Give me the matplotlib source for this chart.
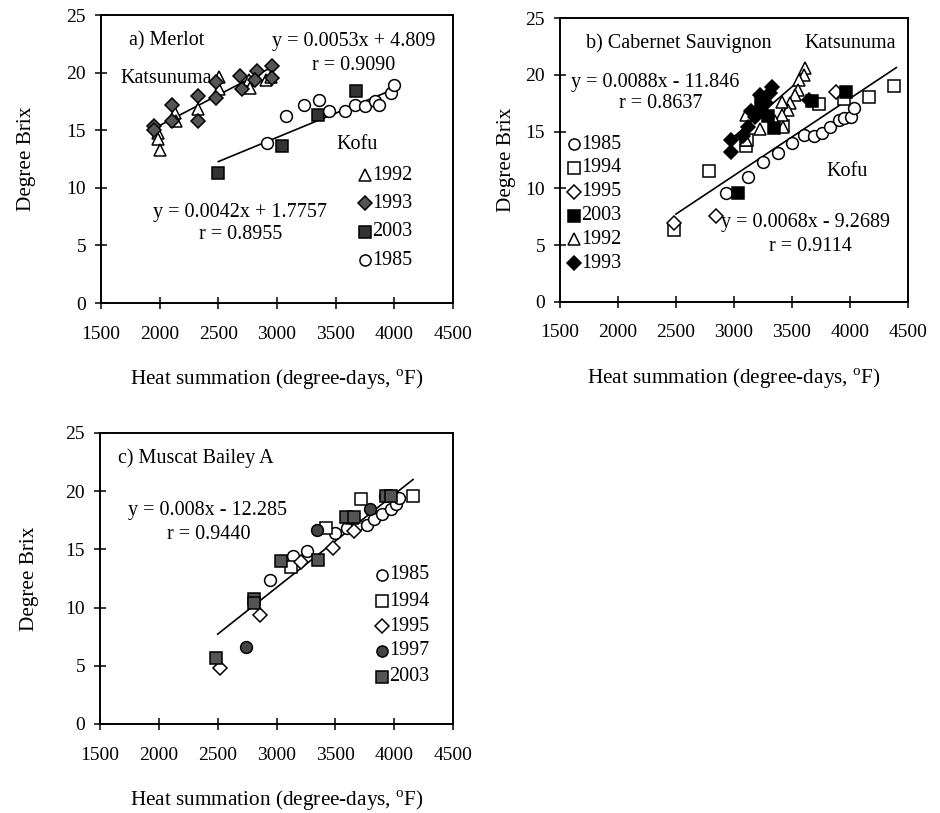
import numpy as np
import matplotlib
matplotlib.use('Agg')
import matplotlib.pyplot as plt

plt.rcParams['font.family'] = ['Liberation Serif', 'DejaVu Serif']
plt.rcParams['mathtext.fontset'] = 'custom'
plt.rcParams['mathtext.rm'] = 'Liberation Serif'

# ---- a) Merlot ----
a_1992_x = [1986, 1986, 2000, 2129, 2143, 2330, 2510, 2510, 2759, 2774, 2903, 2946]
a_1992_y = [14.8, 14.2, 13.3, 16.5, 15.8, 16.8, 19.6, 18.6, 19.4, 18.7, 19.4, 19.6]
a_1993_x = [1948, 1948, 2109, 2109, 2330, 2330, 2481, 2481, 2688, 2702, 2831, 2817, 2960, 2960]
a_1993_y = [15.4, 15.0, 17.2, 15.8, 18.0, 15.8, 19.2, 17.8, 19.7, 18.6, 20.1, 19.4, 20.6, 19.5]
a_2003_x = [2501, 3046, 3347, 3676]
a_2003_y = [11.3, 13.6, 16.3, 18.4]
a_1985_x = [2917, 3074, 3232, 3355, 3447, 3576, 3662, 3748, 3834, 3871, 3972, 4000]
a_1985_y = [13.9, 16.2, 17.2, 17.6, 16.7, 16.7, 17.2, 17.1, 17.5, 17.2, 18.2, 18.9]

# ---- b) Cabernet Sauvignon ----
b_1985_x = [2933, 3122, 3252, 3377, 3499, 3600, 3687, 3760, 3832, 3905, 3948, 4006, 4035]
b_1985_y = [9.6, 11.0, 12.3, 13.1, 14.0, 14.7, 14.6, 14.9, 15.4, 16.0, 16.2, 16.3, 17.1]
b_1994_x = [2484, 2789, 3107, 3116, 3426, 3731, 3948, 4166, 4383]
b_1994_y = [6.3, 11.5, 13.7, 14.3, 15.5, 17.4, 17.9, 18.1, 19.0]
b_1995_x = [2484, 2847, 3876]
b_1995_y = [6.9, 7.6, 18.5]
b_2003_x = [3035, 3341, 3671, 3963, 3230, 3290]
b_2003_y = [9.6, 15.3, 17.7, 18.5, 17.4, 16.4]
b_1992_x = [3610, 3601, 3557, 3550, 3530, 3487, 3470, 3410, 3410, 3358, 3427, 3228, 3107, 3107]
b_1992_y = [20.6, 20.0, 19.6, 18.7, 18.2, 17.5, 16.9, 17.6, 16.5, 15.9, 15.4, 15.2, 16.5, 14.3]
b_1993_x = [2977, 2977, 3081, 3124, 3185, 3237, 3280, 3315, 3324, 3228, 3150, 3644]
b_1993_y = [13.2, 14.3, 14.6, 15.4, 16.3, 16.9, 17.5, 18.4, 18.9, 18.2, 16.8, 17.8]

# ---- c) Muscat Bailey A ----
c_1985_x = [2948, 3137, 3259, 3497, 3598, 3683, 3768, 3830, 3893, 3972, 4014, 4042]
c_1985_y = [12.4, 14.4, 14.9, 16.4, 16.8, 17.1, 17.1, 17.6, 18.0, 18.5, 18.9, 19.4]
c_1994_x = [3123, 3420, 3717, 4164, 3640]
c_1994_y = [13.5, 16.8, 19.3, 19.6, 17.7]
c_1995_x = [2523, 2863, 3208, 3477, 3661]
c_1995_y = [4.8, 9.4, 13.9, 15.1, 16.6]
c_1997_x = [2741, 3344, 3796, 3924]
c_1997_y = [6.6, 16.7, 18.5, 19.6]
c_2003_x = [2487, 2806, 2806, 3038, 3350, 3590, 3661, 3929, 3972]
c_2003_y = [5.7, 10.7, 10.4, 14.0, 14.1, 17.8, 17.8, 19.6, 19.6]

xticks = [1500, 2000, 2500, 3000, 3500, 4000, 4500]
yticks = [0, 5, 10, 15, 20, 25]

fig = plt.figure(figsize=(9.4, 8.13), dpi=100)
ax_a = fig.add_axes([0.1074, 0.6273, 0.3745, 0.3542])
ax_b = fig.add_axes([0.5957, 0.6289, 0.3702, 0.3486])
ax_c = fig.add_axes([0.1064, 0.1095, 0.3755, 0.358])

FS = 14.5   # annotation text
TS = 14     # tick labels
LS = 15.3   # axis labels


def style(ax, ypad):
    ax.set_xlim(1500, 4500)
    ax.set_ylim(0, 25)
    ax.set_xticks(xticks)
    ax.set_yticks(yticks)
    ax.tick_params(direction='inout', length=8.5, width=1.1, labelsize=TS)
    ax.tick_params(axis='x', pad=12)
    ax.tick_params(axis='y', pad=6.5)
    for s in ax.spines.values():
        s.set_linewidth(1.4)
    ax.set_xlabel('Heat summation (degree-days, $^{\\rm o}$F)', fontsize=LS, labelpad=18)
    ax.set_ylabel('Degree Brix', fontsize=LS, labelpad=ypad)


def pts(ax, x, y, m, fc, size=8.5):
    ax.plot(x, y, linestyle='none', marker=m, markersize=size, markerfacecolor=fc,
            markeredgecolor='black', markeredgewidth=1.1)


def fit(ax, slope, icpt, x0, x1):
    xx = np.array([x0, x1])
    ax.plot(xx, slope * xx + icpt, color='black', linewidth=1.2)


def legend(ax, x, ys, items):
    for yy, (m, fc, lab) in zip(ys, items):
        pts(ax, [x], [yy], m, fc, 7.0 if m == 'D' else 8.0)
        ax.text(x + 62, yy, lab, fontsize=FS, va='center', ha='left')


# a
fit(ax_a, 0.0053, 4.809, 1950, 2970)
fit(ax_a, 0.0042, 1.7757, 2500, 3990)
pts(ax_a, a_1992_x, a_1992_y, '^', 'white')
pts(ax_a, a_1993_x, a_1993_y, 'D', '#555555', 7.5)
pts(ax_a, a_2003_x, a_2003_y, 's', '#333333')
pts(ax_a, a_1985_x, a_1985_y, 'o', 'white')
ax_a.text(1739, 22.8, 'a) Merlot', fontsize=FS, va='center')
ax_a.text(3655, 22.7, 'y = 0.0053x + 4.809', fontsize=FS, ha='center', va='center')
ax_a.text(3650, 20.6, 'r = 0.9090', fontsize=FS, ha='center', va='center')
ax_a.text(1668, 19.5, 'Katsunuma', fontsize=FS, va='center')
ax_a.text(3509, 13.8, 'Kofu', fontsize=FS, va='center')
ax_a.text(2688, 7.84, 'y = 0.0042x + 1.7757', fontsize=FS, ha='center', va='center')
ax_a.text(2692, 5.95, 'r = 0.8955', fontsize=FS, ha='center', va='center')
legend(ax_a, 3751, [11.1, 8.65, 6.19, 3.73],
       [('^', 'white', '1992'), ('D', '#555555', '1993'),
        ('s', '#333333', '2003'), ('o', 'white', '1985')])
style(ax_a, 22)

# b
fit(ax_b, 0.0068, -9.2689, 2500, 4400)
fit(ax_b, 0.0088, -11.846, 2980, 3610)
pts(ax_b, b_1985_x, b_1985_y, 'o', 'white')
pts(ax_b, b_1994_x, b_1994_y, 's', 'white')
pts(ax_b, b_1995_x, b_1995_y, 'D', 'white', 7.5)
pts(ax_b, b_1992_x, b_1992_y, '^', 'white')
pts(ax_b, b_1993_x, b_1993_y, 'D', 'black', 7.5)
pts(ax_b, b_2003_x, b_2003_y, 's', 'black')
ax_b.text(1728, 22.8, 'b) Cabernet Sauvignon', fontsize=FS, va='center')
ax_b.text(3607, 22.8, 'Katsunuma', fontsize=FS, va='center')
ax_b.text(2320, 19.3, 'y = 0.0088x - 11.846', fontsize=FS, ha='center', va='center')
ax_b.text(2367, 17.5, 'r = 0.8637', fontsize=FS, ha='center', va='center')
ax_b.text(3795, 11.47, 'Kofu', fontsize=FS, va='center')
ax_b.text(3614, 6.97, 'y = 0.0068x - 9.2689', fontsize=FS, ha='center', va='center')
ax_b.text(3660, 4.85, 'r = 0.9114', fontsize=FS, ha='center', va='center')
legend(ax_b, 1619, [13.9, 11.8, 9.7, 7.6, 5.5, 3.4],
       [('o', 'white', '1985'), ('s', 'white', '1994'), ('D', 'white', '1995'),
        ('s', 'black', '2003'), ('^', 'white', '1992'), ('D', 'black', '1993')])
style(ax_b, 7)

# c
fit(ax_c, 0.008, -12.285, 2500, 4160)
pts(ax_c, c_1985_x, c_1985_y, 'o', 'white')
pts(ax_c, c_1994_x, c_1994_y, 's', 'white')
pts(ax_c, c_1995_x, c_1995_y, 'D', 'white', 7.5)
pts(ax_c, c_1997_x, c_1997_y, 'o', '#444444')
pts(ax_c, c_2003_x, c_2003_y, 's', '#555555')
ax_c.text(1651, 22.8, 'c) Muscat Bailey A', fontsize=FS, va='center')
ax_c.text(2417, 18.3, 'y = 0.008x - 12.285', fontsize=FS, ha='center', va='center')
ax_c.text(2423, 16.3, 'r = 0.9440', fontsize=FS, ha='center', va='center')
legend(ax_c, 3893, [12.83, 10.53, 8.38, 6.3, 4.07],
       [('o', 'white', '1985'), ('s', 'white', '1994'), ('D', 'white', '1995'),
        ('o', '#444444', '1997'), ('s', '#555555', '2003')])
style(ax_c, 19)

fig.savefig('out.png', dpi=100)
